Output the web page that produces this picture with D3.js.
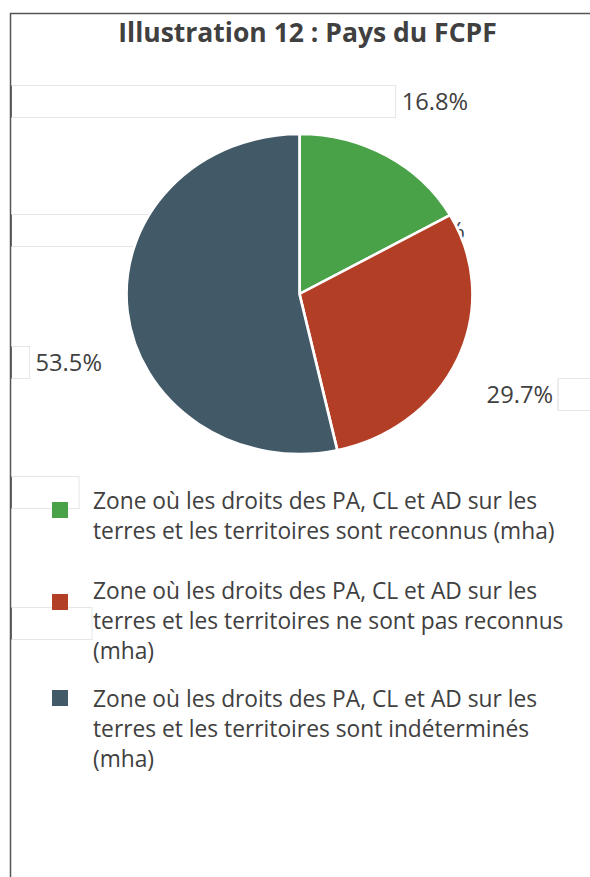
<!DOCTYPE html>
<html>
<head>
<meta charset="utf-8">
<script src="https://cdn.jsdelivr.net/npm/d3@7"></script>
<style>
  body { margin: 0; background: #fff; }
  text { font-family: "Open Sans", "Noto Sans", sans-serif; fill: #404040; }
</style>
</head>
<body>
<svg id="chart"></svg>
<script>
// data
const title = "Illustration 12 : Pays du FCPF";
const categories = [
  "Zone où les droits des PA, CL et AD sur les terres et les territoires sont reconnus (mha)",
  "",
  "Zone où les droits des PA, CL et AD sur les terres et les territoires ne sont pas reconnus (mha)",
  "Zone où les droits des PA, CL et AD sur les terres et les territoires sont indéterminés (mha)"
];
const shares = [16.8, 0.0, 29.7, 53.5];
const colors = ["#49a247", "#999999", "#b33e26", "#425968"];

const width = 590, height = 877;
const svg = d3.select("#chart").attr("width", width).attr("height", height);

// frame
svg.append("path")
  .attr("d", `M10.5,${height} V13.5 H${width}`)
  .attr("fill", "none").attr("stroke", "#555").attr("stroke-width", 1.5);

svg.append("text")
  .attr("x", 307.5).attr("y", 42)
  .attr("text-anchor", "middle")
  .attr("font-size", 26.5).attr("font-weight", "bold")
  .text(title);

// pie geometry (drawn slightly wider than tall, as in the source)
const cx = 299.5, cy = 294, ry = 160, rx = 173;
const pie = d3.pie().sort(null).value(d => d);
const arcs = pie(shares);
const arc = d3.arc().innerRadius(0).outerRadius(ry);

// label placement: edge point of each slice + nudge
const labelNudge = [[15, -46], [-38, 24], [29, 44], [-92, 59]];
const fmt = d => d.toFixed(1) + "%";
const edge = a => {
  const m = (a.startAngle + a.endAngle) / 2;
  return [cx + rx * Math.sin(m), cy - ry * Math.cos(m)];
};

const labels = svg.append("g").attr("font-size", 23.7);
arcs.forEach((a, i) => {
  const [ex, ey] = edge(a);
  labels.append("text")
    .attr("x", ex + labelNudge[i][0])
    .attr("y", ey + labelNudge[i][1])
    .text(fmt(shares[i]));
});

// white label boxes
const boxG = svg.append("g");
const drawBox = (x0, x1, y0) => {
  boxG.append("rect").attr("x", x0).attr("y", y0).attr("width", x1 - x0).attr("height", 32)
    .attr("fill", "#fff").attr("stroke", "#e6e6e6");
  boxG.append("line").attr("x1", x0).attr("x2", x0).attr("y1", y0).attr("y2", y0 + 32)
    .attr("stroke", x0 < 20 ? "#666" : "#e6e6e6").attr("stroke-width", 1);
};
labels.selectAll("text").each(function (d, i) {
  const bb = this.getBBox();
  const y0 = Math.round(bb.y + bb.height / 2 - 16) + 0.5;
  if (i === 2) drawBox(bb.x + bb.width + 5, width + 2, y0);
  else drawBox(11.5, bb.x - 6, y0);
});
drawBox(11.5, 79, 476.5);
drawBox(11.5, 92, 607.5);

// pie on top
svg.append("g")
  .attr("transform", `translate(${cx},${cy}) scale(${rx / ry},1)`)
  .selectAll("path")
  .data(arcs.filter(a => a.value > 0))
  .join("path")
  .attr("d", arc)
  .attr("fill", (d) => colors[d.index])
  .attr("stroke", "#fff")
  .attr("stroke-width", 2.5);

// legend
const legendItems = categories.map((c, i) => ({ c, i })).filter(d => d.c !== "");
const legendBaseline = [509, 599, 707];
const swatchDy = [-7, -5, -17];
const wrapWidth = 478;
const legend = svg.append("g").attr("font-size", 22.75);
legendItems.forEach((d, k) => {
  legend.append("rect")
    .attr("x", 52).attr("y", legendBaseline[k] + swatchDy[k])
    .attr("width", 16).attr("height", 16)
    .attr("fill", colors[d.i]);
  const t = legend.append("text").attr("x", 93).attr("y", legendBaseline[k]);
  const words = d.c.split(" ");
  let line = [], tspan = t.append("tspan").attr("x", 93).attr("dy", 0);
  words.forEach(w => {
    line.push(w);
    tspan.text(line.join(" "));
    if (tspan.node().getComputedTextLength() > wrapWidth && line.length > 1) {
      line.pop();
      tspan.text(line.join(" "));
      line = [w];
      tspan = t.append("tspan").attr("x", 93).attr("dy", 30).text(w);
    }
  });
});
</script>
</body>
</html>
